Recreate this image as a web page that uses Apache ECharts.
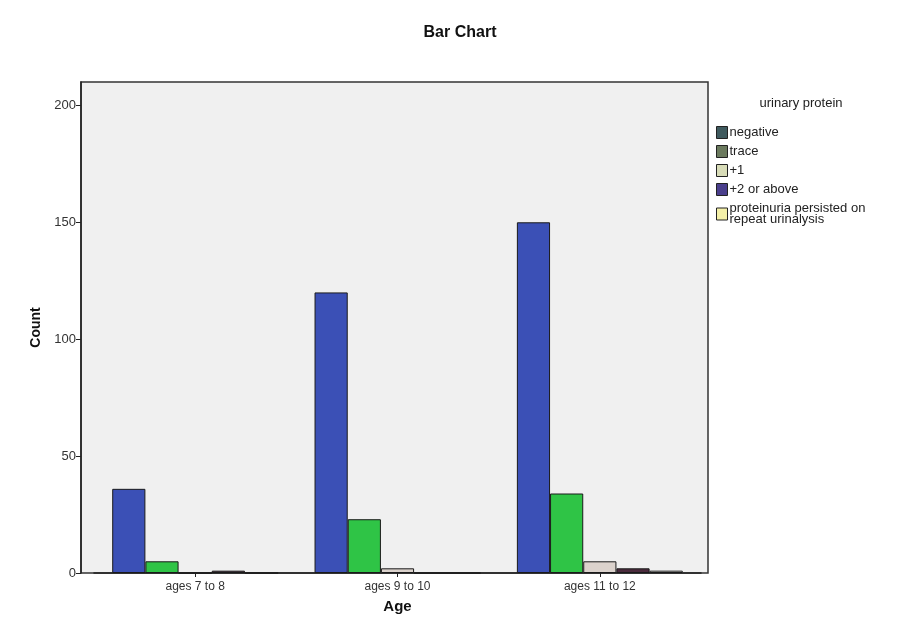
<!DOCTYPE html>
<html>
<head>
<meta charset="utf-8">
<script src="https://cdn.jsdelivr.net/npm/echarts@6/dist/echarts.min.js"></script>
<style>html,body{margin:0;padding:0;background:#fff}#c{width:908px;height:640px}</style>
</head>
<body>
<div id="c"></div>
<script>
var categories = ['ages 7 to 8', 'ages 9 to 10', 'ages 11 to 12'];
var seriesNames = ['negative', 'trace', '+1', '+2 or above', 'proteinuria persisted on repeat urinalysis'];
var negative = [36, 120, 150];
var trace = [5, 23, 34];
var plus1 = [0, 2, 5];
var plus2 = [1, 0, 2];
var persisted = [0, 0, 1];
var yTicks = [0, 50, 100, 150, 200];

var barColors = ['#3b50b6', '#2fc446', '#dbd2cc', '#4b2b3d', '#f3f3ee'];
var legendColors = ['#3f5a5e', '#6b7a5e', '#d8dcb8', '#4a3f8c', '#f4f0a8'];
var values = [negative, trace, plus1, plus2, persisted];

var chart = echarts.init(document.getElementById('c'));
var font = 'Liberation Sans, Arial, sans-serif';
chart.setOption({
  animation: false,
  backgroundColor: '#ffffff',
  textStyle: { fontFamily: font },
  title: [
    { text: 'Bar Chart', left: 455, top: 20, textAlign: 'center',
      textStyle: { fontSize: 16, fontWeight: 'bold', color: '#111', fontFamily: font } },
    { text: 'urinary protein', left: 796, top: 92, textAlign: 'center',
      textStyle: { fontSize: 13, fontWeight: 'normal', color: '#222', fontFamily: font } }
  ],
  graphic: [{
    type: 'rect', z: -10, silent: true,
    shape: { x: 81, y: 82, width: 627, height: 491 },
    style: { fill: '#f0f0f0', stroke: '#333', lineWidth: 1.5 }
  }],
  legend: {
    orient: 'vertical', left: 711, top: 121,
    itemWidth: 11, itemHeight: 12, itemGap: 6,
    icon: 'rect',
    textStyle: { fontSize: 13, color: '#222', fontFamily: font, lineHeight: 11, padding: [0,0,0,-3] },
    formatter: function (n) { return n === seriesNames[4] ? 'proteinuria persisted on\nrepeat urinalysis' : n; },
    data: seriesNames.map(function (n, i) {
      return { name: n, itemStyle: { color: legendColors[i], borderColor: '#222', borderWidth: 1 } };
    })
  },
  grid: { left: 94, right: 207, top: 82, bottom: 67, containLabel: false },
  xAxis: {
    type: 'category', data: categories,
    name: 'Age', nameLocation: 'middle', nameGap: 26,
    nameTextStyle: { fontSize: 15, fontWeight: 'bold', color: '#111', fontFamily: font },
    axisLine: { show: true, lineStyle: { color: '#222', width: 1.5 } },
    axisTick: { show: true, alignWithLabel: true, length: 4, lineStyle: { color: '#222' } },
    axisLabel: { fontSize: 12, color: '#333', margin: 8 },
    splitLine: { show: false }
  },
  yAxis: {
    type: 'value', min: 0, max: 210, interval: 50, offset: 13,
    name: 'Count', nameLocation: 'middle', nameGap: 36, nameRotate: 90,
    nameTextStyle: { fontSize: 14, fontWeight: 'bold', color: '#111', fontFamily: font },
    axisLine: { show: true, lineStyle: { color: '#222', width: 1.5 } },
    axisTick: { show: true, length: 5, customValues: yTicks, lineStyle: { color: '#222' } },
    axisLabel: { fontSize: 13, color: '#333', margin: 5, customValues: yTicks },
    splitLine: { show: false }
  },
  series: values.map(function (arr, i) {
    return {
      name: seriesNames[i], type: 'bar', data: arr,
      barGap: '0%', barCategoryGap: '18%',
      itemStyle: { color: barColors[i], borderColor: '#1a1a1a', borderWidth: 1 }
    };
  })
});
</script>
</body>
</html>
